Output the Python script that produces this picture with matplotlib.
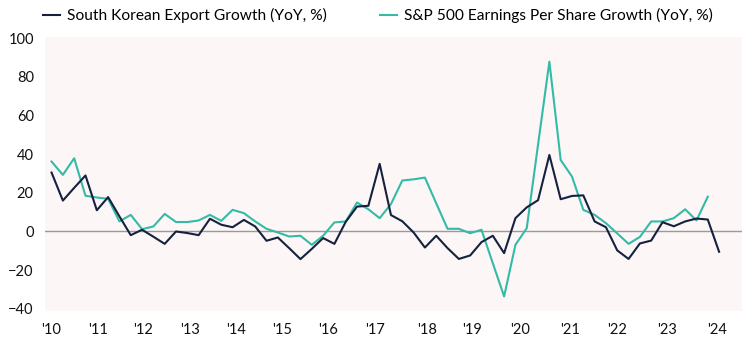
import matplotlib
matplotlib.use("Agg")
import matplotlib.pyplot as plt
import numpy as np

plt.rcParams['font.family'] = ['Lato', 'DejaVu Sans']

# Quarterly YoY growth (%)
export_growth = [30.5, 16.0, 22.6, 29.0, 11.0, 17.8, 7.8, -1.9, 0.9, -2.7,
                 -6.4, 0.0, -0.8, -1.9, 6.6, 3.5, 2.2, 6.0, 2.6, -4.8,
                 -3.1, -8.6, -14.3, -9.0, -3.4, -6.4, 5.0, 12.9, 13.3, 35.0,
                 8.5, 5.3, -0.5, -8.3, -2.2, -8.6, -14.2, -12.4, -5.5, -2.2,
                 -11.2, 6.9, 12.5, 16.2, 39.6, 16.7, 18.4, 18.7, 5.2, 2.2,
                 -9.8, -14.2, -6.2, -4.7, 4.8, 2.7, 5.2, 6.7, 6.2, -10.5]
eps_growth = [36.2, 29.3, 37.9, 18.5, 17.6, 16.9, 5.2, 8.6, 1.2, 2.6,
              9.1, 4.9, 4.9, 5.7, 8.6, 5.5, 11.2, 9.5, 5.2, 1.4,
              -0.5, -2.6, -2.2, -6.9, -2.2, 4.7, 5.2, 15.0, 11.5, 6.9,
              14.2, 26.4, 27.0, 27.9, 14.6, 1.4, 1.4, -0.9, 0.9, -16.4,
              -33.6, -6.9, 1.7, 45.0, 87.9, 37.0, 28.4, 11.2, 8.6, 4.3,
              -1.0, -6.4, -2.8, 5.2, 5.2, 6.9, 11.5, 5.7, 18.0]

year_labels = ["'10", "'11", "'12", "'13", "'14", "'15", "'16", "'17",
               "'18", "'19", "'20", "'21", "'22", "'23", "'24"]
# label positions in quarter-index units, as placed on the original axis
year_ticks = [0, 4.12, 8.10, 12.23, 16.3, 20.34, 24.46, 28.59,
              33.16, 37.14, 41.41, 45.83, 50.0, 54.38, 58.8]

navy = "#15213f"
teal = "#33bba6"

fig = plt.figure(figsize=(7.48, 3.37), dpi=100)
ax = fig.add_axes([0.060, 0.078, 0.9316, 0.813])
ax.set_facecolor("#fcf6f6")

ax.axhline(0, color="#9a9a9a", linewidth=1.0, zorder=1)
ax.plot(np.arange(len(export_growth)), export_growth, color=navy, linewidth=1.5,
        label="South Korean Export Growth (YoY, %)", zorder=3)
ax.plot(np.arange(len(eps_growth)), eps_growth, color=teal, linewidth=1.5,
        label="S&P 500 Earnings Per Share Growth (YoY, %)", zorder=2)

ax.set_xlim(-0.59, 61.0)
ax.set_ylim(-41, 100.8)
ax.set_yticks(np.arange(-40, 101, 20))
ax.set_xticks(year_ticks)
ax.set_xticklabels(year_labels)
ax.tick_params(length=0, labelsize=10.5, colors="#111111")
ax.tick_params(axis='y', pad=8)
ax.tick_params(axis='x', pad=9)
for s in ax.spines.values():
    s.set_visible(False)

fig.legend(loc='upper left', bbox_to_anchor=(0.0575, 0.975), ncol=2, frameon=False,
           borderpad=0, borderaxespad=0, handlelength=1.1, handletextpad=0.45,
           columnspacing=3.4, fontsize=11.2)

fig.savefig("out.png", dpi=100)
